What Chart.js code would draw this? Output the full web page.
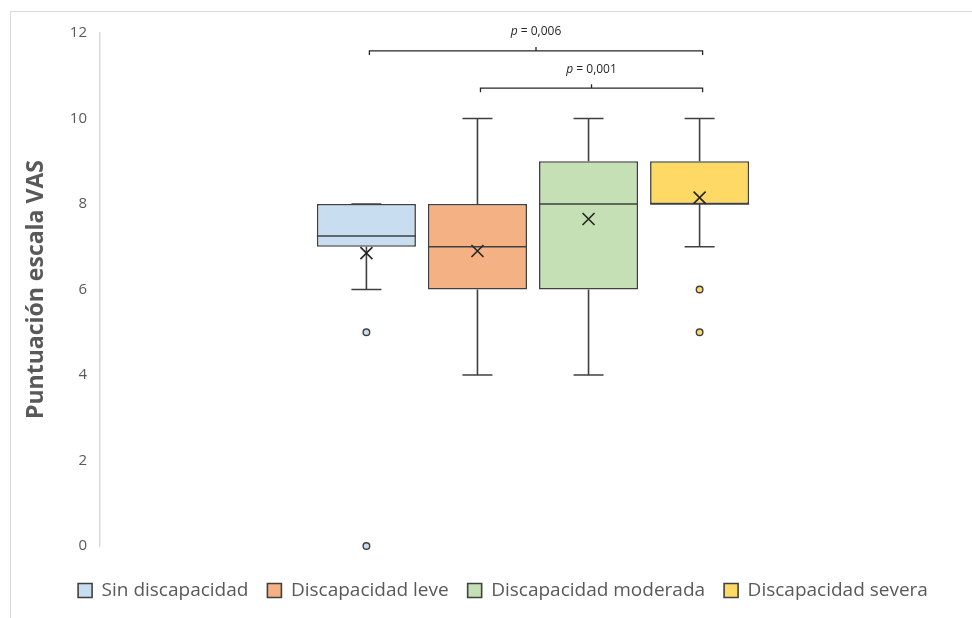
<!DOCTYPE html>
<html>
<head>
<meta charset="utf-8">
<script src="https://cdn.jsdelivr.net/npm/chart.js@4/dist/chart.umd.min.js"></script>
<style>
  body { margin: 0; background: #fff; }
  #frame { position: absolute; left: 10px; top: 11px; width: 1000px; height: 700px;
           border-top: 1.5px solid #d9d9d9; border-left: 1.5px solid #d9d9d9; }
  #wrap { position: absolute; left: 0; top: 0; width: 972px; height: 618px; }
</style>
</head>
<body>
<div id="frame"></div>
<div id="wrap"><canvas id="g-vas"></canvas></div>
<script>
const categorias = ['Sin discapacidad', 'Discapacidad leve', 'Discapacidad moderada', 'Discapacidad severa'];
const minimos = [6, 4, 4, 7];
const q1 = [7, 6, 6, 8];
const medianas = [7.25, 7, 8, 8];
const q3 = [8, 8, 9, 9];
const maximos = [8, 10, 10, 10];
const medias = [6.85, 6.9, 7.65, 8.15];
const atipicos = [[5, 0], [], [], [6, 5]];
const yTicks = [0, 2, 4, 6, 8, 10, 12];
// comparaciones: [grupo a, grupo b, altura, texto]
const comparaciones = [[0, 3, 11.58, '0,006'], [1, 3, 10.71, '0,001']];

const colores = ['#c9ddf1', '#f4b183', '#c5e0b4', '#ffd966'];
const borde = '#404040';
const fuente = "'Open Sans', 'Noto Sans', sans-serif";

// bigotes, mediana, media y atipicos
const cajas = {
    id: 'cajas',
    afterDatasetsDraw(chart) {
        const ctx = chart.ctx;
        const y = chart.scales.y;
        ctx.save();
        categorias.forEach((c, i) => {
            const bar = chart.getDatasetMeta(i).data[0];
            const x = bar.x, w = bar.width;
            const cap = 15;
            ctx.strokeStyle = borde;
            ctx.lineWidth = 1.6;
            ctx.beginPath();
            // bigote superior
            ctx.moveTo(x, y.getPixelForValue(q3[i]));
            ctx.lineTo(x, y.getPixelForValue(maximos[i]));
            ctx.moveTo(x - cap, y.getPixelForValue(maximos[i]));
            ctx.lineTo(x + cap, y.getPixelForValue(maximos[i]));
            // bigote inferior
            ctx.moveTo(x, y.getPixelForValue(q1[i]));
            ctx.lineTo(x, y.getPixelForValue(minimos[i]));
            ctx.moveTo(x - cap, y.getPixelForValue(minimos[i]));
            ctx.lineTo(x + cap, y.getPixelForValue(minimos[i]));
            // mediana
            ctx.moveTo(x - w / 2, y.getPixelForValue(medianas[i]));
            ctx.lineTo(x + w / 2, y.getPixelForValue(medianas[i]));
            ctx.stroke();
            // media (x)
            const my = y.getPixelForValue(medias[i]);
            const s = 6;
            ctx.strokeStyle = '#262626';
            ctx.beginPath();
            ctx.moveTo(x - s, my - s); ctx.lineTo(x + s, my + s);
            ctx.moveTo(x + s, my - s); ctx.lineTo(x - s, my + s);
            ctx.stroke();
            // atipicos
            atipicos[i].forEach(v => {
                ctx.beginPath();
                ctx.arc(x, y.getPixelForValue(v), 3.3, 0, Math.PI * 2);
                ctx.fillStyle = colores[i];
                ctx.fill();
                ctx.strokeStyle = borde;
                ctx.lineWidth = 1.4;
                ctx.stroke();
            });
        });
        // llaves de significacion
        comparaciones.forEach(([a, b, v, txt]) => {
            const xa = chart.getDatasetMeta(a).data[0].x + 3;
            const xb = chart.getDatasetMeta(b).data[0].x + 3;
            const py = y.getPixelForValue(v);
            const xm = (xa + xb) / 2;
            ctx.strokeStyle = '#262626';
            ctx.lineWidth = 1.3;
            ctx.beginPath();
            ctx.moveTo(xa, py + 4); ctx.lineTo(xa, py); ctx.lineTo(xb, py); ctx.lineTo(xb, py + 4);
            ctx.moveTo(xm, py); ctx.lineTo(xm, py - 4);
            ctx.stroke();
            ctx.fillStyle = '#262626';
            ctx.textBaseline = 'middle';
            const p = 'p';
            const resto = ' = ' + txt;
            ctx.font = '12px ' + fuente;
            const wr = ctx.measureText(resto).width;
            ctx.font = 'italic 12px ' + fuente;
            const wp = ctx.measureText(p).width;
            const x0 = xm - (wp + wr) / 2;
            ctx.textAlign = 'left';
            ctx.fillText(p, x0, py - 19);
            ctx.font = '12px ' + fuente;
            ctx.fillText(resto, x0 + wp, py - 19);
        });
        ctx.restore();
    }
};

const ctx = document.getElementById('g-vas').getContext('2d');
new Chart(ctx, {
    type: 'bar',
    data: {
        labels: [''],
        datasets: categorias.map((c, i) => ({
            label: c,
            data: [[q1[i], q3[i]]],
            backgroundColor: colores[i],
            borderColor: borde,
            borderWidth: 1.6,
            borderSkipped: false,
            categoryPercentage: 0.513,
            barPercentage: 0.892
        }))
    },
    options: {
        responsive: true,
        maintainAspectRatio: false,
        animation: false,
        layout: { padding: { top: 33, right: 6, left: 40, bottom: 8 } },
        scales: {
            x: {
                display: true,
                grid: { display: false },
                border: { display: false },
                ticks: { display: false },
                afterFit: s => { s.height = 16; }
            },
            y: {
                min: 0,
                max: 12,
                afterBuildTicks: s => { s.ticks = yTicks.map(v => ({ value: v })); },
                afterFit: s => { s.width = 60; },
                grid: { display: false, drawTicks: false },
                border: { display: true, color: '#d9d9d9', width: 1.5 },
                ticks: { padding: 13, color: '#595959', font: { family: fuente, size: 15 } },
                title: {
                    display: true,
                    text: 'Puntuación escala VAS',
                    color: '#595959',
                    font: { family: fuente, size: 23, weight: 'bold' },
                    padding: { top: -17, bottom: 0 }
                }
            }
        },
        plugins: {
            tooltip: { enabled: false },
            legend: {
                position: 'bottom',
                labels: {
                    color: '#595959',
                    boxWidth: 14,
                    boxHeight: 14,
                    padding: 19,
                    font: { family: fuente, size: 19 }
                }
            }
        }
    },
    plugins: [cajas]
});
</script>
</body>
</html>
